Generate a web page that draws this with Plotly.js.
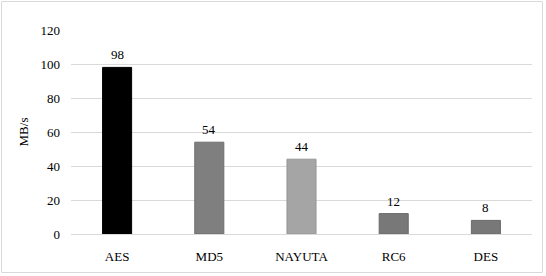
<!DOCTYPE html>
<html>
<head>
<meta charset="utf-8">
<script src="https://cdn.plot.ly/plotly-3.0.1.min.js"></script>
<style>html,body{margin:0;padding:0;background:#fff;}#chart{width:546px;height:276px;}</style>
</head>
<body>
<div id="chart"></div>
<script>
const categories = ["AES", "MD5", "NAYUTA", "RC6", "DES"];
const values = [98, 54, 44, 12, 8];
const barColors = ["#000000", "#7f7f7f", "#a5a5a5", "#787878", "#787878"];
const lineColors = ["#000000", "#6e6e6e", "#959595", "#6a6a6a", "#6a6a6a"];
const yTicks = [0, 20, 40, 60, 80, 100, 120];

const FONT = "'Liberation Serif', 'Times New Roman', serif";

const trace = {
  type: "bar",
  x: categories,
  y: values,
  marker: {color: barColors, line: {color: lineColors, width: 1}},
  hoverinfo: "none"
};

const labels = categories.map((c, i) => ({
  x: c, y: values[i], xref: "x", yref: "y",
  text: String(values[i]), showarrow: false,
  yanchor: "bottom", yshift: 3,
  font: {family: FONT, size: 13, color: "#000"}
}));

const layout = {
  width: 546, height: 276,
  margin: {l: 71, r: 14, t: 30, b: 42},
  paper_bgcolor: "#fff", plot_bgcolor: "#fff",
  bargap: 0.685,
  showlegend: false,
  font: {family: FONT, size: 13, color: "#000"},
  annotations: labels,
  xaxis: {
    showgrid: false, showline: true, linecolor: "#d9d9d9", linewidth: 1,
    ticks: "", ticklabelstandoff: 10, tickfont: {family: FONT, size: 13, color: "#000"}
  },
  yaxis: {
    range: [0, 120], tickvals: yTicks, ticktext: yTicks.map(String),
    showgrid: true, gridcolor: "#d9d9d9", gridwidth: 1, zeroline: false, showline: false,
    ticks: "", ticklabelstandoff: 10, tickfont: {family: FONT, size: 13, color: "#000"},
    title: {text: "MB/s", font: {family: FONT, size: 13, color: "#000"}, standoff: 8}
  },
  shapes: [{
    type: "rect", xref: "paper", yref: "paper",
    x0: (1.5 - 71) / 461, x1: (542.5 - 71) / 461,
    y0: (234 - 272.5) / 204, y1: (234 - 1.5) / 204,
    line: {color: "#d9d9d9", width: 1}, fillcolor: "rgba(0,0,0,0)", layer: "below"
  }]
};

Plotly.newPlot("chart", [trace], layout, {displayModeBar: false, staticPlot: true});
</script>
</body>
</html>
